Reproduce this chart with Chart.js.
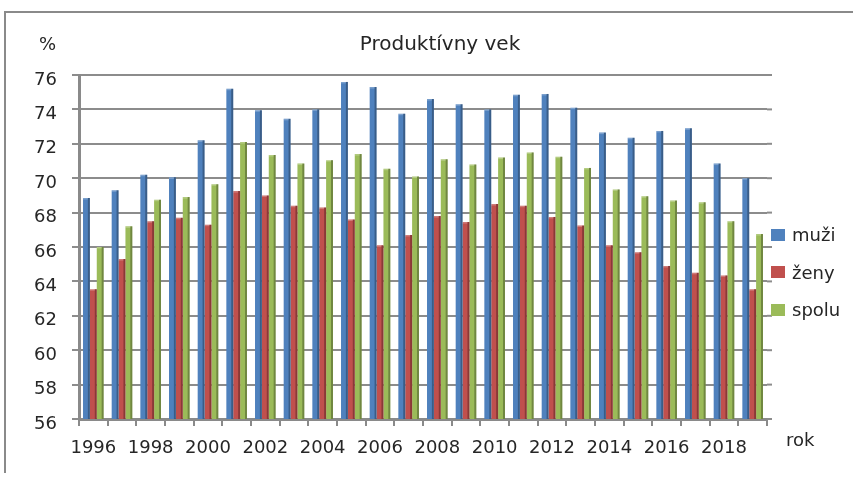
<!DOCTYPE html>
<html>
<head>
<meta charset="utf-8">
<script src="https://cdn.jsdelivr.net/npm/chart.js@4.4.1/dist/chart.umd.min.js"></script>
<style>
  html, body { margin: 0; padding: 0; background: #fff; }
  #wrap { position: relative; width: 853px; height: 479px; overflow: hidden; font-family: "DejaVu Sans", sans-serif; color: #262626; }
  #frame { position: absolute; left: 4px; top: 11px; width: 900px; height: 460px; border-top: 2px solid #8a8a8a; border-left: 2px solid #8a8a8a; }
  canvas { position: absolute; left: 0; top: 0; }
  .txt { position: absolute; white-space: nowrap; }
  #title { left: 0; width: 880px; top: 31px; text-align: center; font-size: 20px; }
  #pct { left: 39px; top: 33px; font-size: 18px; }
  #rok { left: 786px; top: 429px; font-size: 18px; }
  #legend { position: absolute; left: 771px; top: 216px; font-size: 18px; }
  .li { height: 37.5px; display: flex; align-items: center; }
  .sw { width: 14px; height: 12px; margin-right: 7px; }
</style>
</head>
<body>
<div id="wrap">
  <div id="frame"></div>
  <canvas id="c" width="853" height="479"></canvas>
  <div class="txt" id="title">Produktívny vek</div>
  <div class="txt" id="pct">%</div>
  <div class="txt" id="rok">rok</div>
  <div id="legend"></div>
</div>
<script>
const years = ["1996","1997","1998","1999","2000","2001","2002","2003","2004","2005","2006","2007","2008","2009","2010","2011","2012","2013","2014","2015","2016","2017","2018","2019"];
const muzi  = [68.85,69.3,70.2,70.05,72.2,75.2,73.95,73.45,74.0,75.6,75.3,73.75,74.6,74.3,74.0,74.85,74.9,74.1,72.65,72.35,72.75,72.9,70.85,70.0];
const zeny  = [63.55,65.3,67.5,67.7,67.3,69.25,69.0,68.4,68.3,67.6,66.1,66.7,67.8,67.45,68.5,68.4,67.75,67.25,66.1,65.7,64.9,64.5,64.35,63.55];
const spolu = [66.0,67.2,68.75,68.9,69.65,72.1,71.35,70.85,71.05,71.4,70.55,70.1,71.1,70.8,71.2,71.5,71.25,70.6,69.35,68.95,68.7,68.6,67.5,66.75];
const seriesNames = ["muži","ženy","spolu"];
const yTicks = [56,58,60,62,64,66,68,70,72,74,76];

const colors = ["#4F81BD","#C0504D","#9BBB59"];
const series = [muzi, zeny, spolu];

const leg = document.getElementById('legend');
seriesNames.forEach((n,i)=>{
  const d = document.createElement('div'); d.className='li';
  d.innerHTML = '<span class="sw" style="background:'+colors[i]+'"></span><span>'+n+'</span>';
  leg.appendChild(d);
});

const deco = {
  id: 'deco',
  beforeDatasetsDraw(chart) {
    const ctx = chart.ctx, a = chart.chartArea, ys = chart.scales.y;
    ctx.save();
    ctx.strokeStyle = '#8c8c8c'; ctx.lineWidth = 2;
    ys.ticks.forEach(t => {
      const y = ys.getPixelForValue(t.value);
      ctx.beginPath(); ctx.moveTo(a.right, y); ctx.lineTo(a.right + 5, y); ctx.stroke();
    });
    ctx.restore();
  },
  afterDatasetsDraw(chart) {
    const ctx = chart.ctx, a = chart.chartArea;
    ctx.save();
    chart.data.datasets.forEach((ds, di) => {
      const meta = chart.getDatasetMeta(di);
      meta.data.forEach(bar => {
        const w = bar.width, r = bar.x + w/2;
        const top = Math.max(bar.y, a.top), bot = Math.min(bar.base, a.bottom);
        ctx.fillStyle = 'rgba(0,0,0,0.28)';
        ctx.fillRect(r - 2, top, 2, bot - top);
        ctx.fillStyle = 'rgba(255,255,255,0.25)';
        ctx.fillRect(bar.x - w/2, top, w - 2, 1.5);
      });
    });
    ctx.restore();
  }
};

new Chart(document.getElementById('c'), {
  type: 'bar',
  data: {
    labels: years,
    datasets: series.map((d,i)=>({ label: seriesNames[i], data: d, backgroundColor: colors[i], categoryPercentage: 0.72, barPercentage: 1.0 }))
  },
  options: {
    responsive: false,
    animation: false,
    devicePixelRatio: 1,
    layout: { padding: { left: 0, right: 86, top: 75, bottom: 0 } },
    plugins: { legend: { display: false }, title: { display: false }, tooltip: { enabled: false } },
    scales: {
      x: {
        afterFit(s) { s.height = 60; },
        grid: { display: true, drawOnChartArea: false, offset: true, tickLength: 7, color: '#8a8a8a', lineWidth: 2 },
        border: { display: true, color: '#8a8a8a', width: 3 },
        ticks: {
          autoSkip: false, maxRotation: 0, minRotation: 0, padding: 12,
          color: '#262626', font: { family: 'DejaVu Sans', size: 18 },
          callback: (v, i) => (i % 2 === 0 ? years[i] : '')
        }
      },
      y: {
        min: 56, max: 76,
        afterFit(s) { s.width = 79; },
        afterBuildTicks(s) { s.ticks = yTicks.map(v => ({ value: v })); },
        grid: { color: '#8c8c8c', lineWidth: 2, tickLength: 7 },
        border: { display: true, color: '#8a8a8a', width: 3 },
        ticks: { stepSize: 2, padding: 15, labelOffset: 5, color: '#262626', font: { family: 'DejaVu Sans', size: 18 } }
      }
    }
  },
  plugins: [deco]
});
</script>
</body>
</html>
